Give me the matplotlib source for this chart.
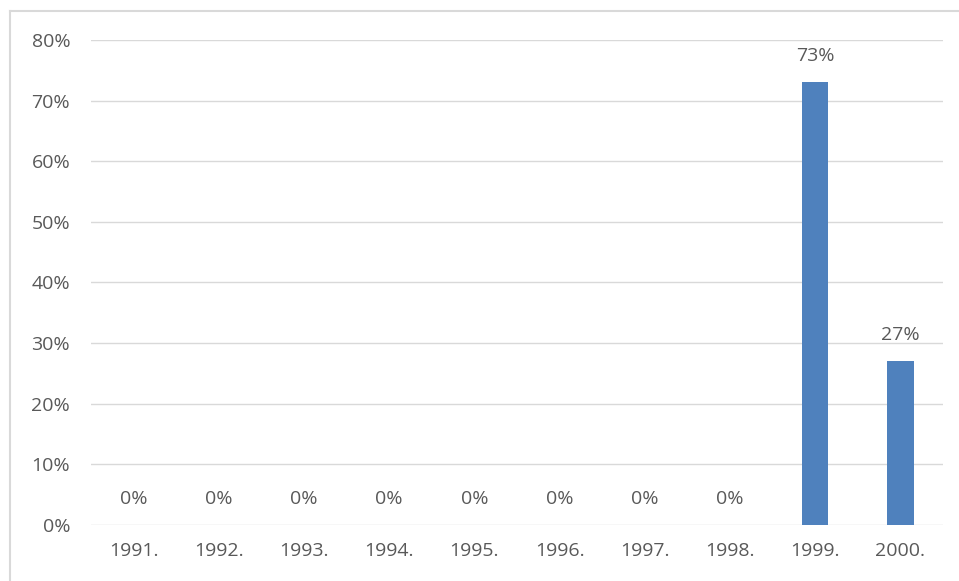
import matplotlib.pyplot as plt
from matplotlib.lines import Line2D
from matplotlib.ticker import FuncFormatter

years = ['1991.', '1992.', '1993.', '1994.', '1995.', '1996.', '1997.', '1998.', '1999.', '2000.']
shares = [0, 0, 0, 0, 0, 0, 0, 0, 0.73, 0.27]
labels = ['0%', '0%', '0%', '0%', '0%', '0%', '0%', '0%', '73%', '27%']

text_color = '#595959'
grid_color = '#d9d9d9'

plt.rcParams['font.family'] = ['Open Sans', 'DejaVu Sans']

fig = plt.figure(figsize=(9.59, 5.81), dpi=100)
ax = fig.add_axes([0.0949, 0.0964, 0.8884, 0.8348])

x = range(len(years))
bars = ax.bar(x, shares, width=0.31, color='#4f81bd', zorder=3)

for xi, v, lab in zip(x, shares, labels):
    ax.annotate(lab, (xi, v), xytext=(0, 19), textcoords='offset points',
                ha='center', va='center', fontsize=14, color=text_color)

ax.set_xlim(-0.5, len(years) - 0.5)
ax.set_ylim(0, 0.8)
ax.set_yticks([i / 10 for i in range(9)])
ax.yaxis.set_major_formatter(FuncFormatter(lambda v, p: f'{v * 100:.0f}%'))
ax.set_xticks(list(x))
ax.set_xticklabels(years)

ax.grid(axis='y', color=grid_color, linewidth=1, zorder=0)
ax.tick_params(axis='both', length=0, labelsize=14, labelcolor=text_color)
ax.tick_params(axis='y', pad=15)
ax.tick_params(axis='x', pad=12)
for s in ax.spines.values():
    s.set_visible(False)

# chart area border (top and left visible in crop)
fig.add_artist(Line2D([10 / 959, 1.0], [1 - 11 / 581, 1 - 11 / 581], color='#d9d9d9', linewidth=1.5))
fig.add_artist(Line2D([10 / 959, 10 / 959], [0.0, 1 - 11 / 581], color='#d9d9d9', linewidth=1.5))

fig.savefig('out.png', dpi=100)
